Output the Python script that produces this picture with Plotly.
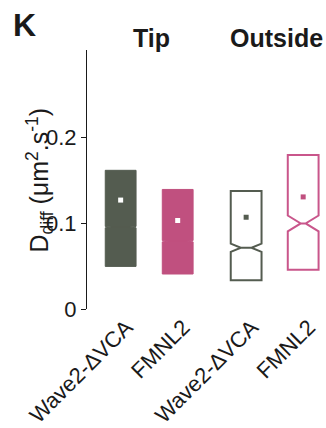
import plotly.graph_objects as go

# ---- data ----
categories = ["Wave2-ΔVCA", "FMNL2", "Wave2-ΔVCA", "FMNL2"]
positions = [1, 2, 3.2, 4.2]
groups = ["Tip", "Outside"]
group_members = [[0, 1], [2, 3]]
q1 = [0.0497, 0.0408, 0.0336, 0.0459]
q3 = [0.1617, 0.1394, 0.1376, 0.1796]
median = [0.0955, 0.0791, 0.0714, 0.0998]
mean = [0.127, 0.1032, 0.107, 0.1307]
notchspan = [0.0008, 0.0008, 0.0048, 0.0092]
y_ticks = [0, 0.1, 0.2]
y_ticklabels = ["0", "0.1", "0.2"]

# ---- styles ----
GREEN = "#545c50"
PINK = "#c0507f"
PINK_LINE = "#c9568b"
TEXT = "#1a1a1a"
filled = [True, True, False, False]
line_colors = [GREEN, PINK, GREEN, PINK_LINE]
fill_colors = [GREEN, PINK, "white", "white"]
notch_widths = [0.2, 0.2, 0.33, 0.42]
mean_colors = ["white", "white", GREEN, PINK]
FONT = "Liberation Sans, Arial, Helvetica, sans-serif"
LABEL_SHIFT = 0.1  # rotated labels sit slightly right of the box centres

fig = go.Figure()
for i in range(len(categories)):
    fig.add_trace(go.Box(
        x=[positions[i]],
        q1=[q1[i]], q3=[q3[i]], median=[median[i]],
        lowerfence=[q1[i]], upperfence=[q3[i]],
        notched=True, notchspan=[notchspan[i]], notchwidth=notch_widths[i],
        width=0.54,
        fillcolor=fill_colors[i],
        line=dict(color=line_colors[i], width=1 if filled[i] else 2),
        whiskerwidth=0,
        boxpoints=False,
        showlegend=False,
        hoverinfo="skip",
    ))

fig.add_trace(go.Scatter(
    x=positions, y=mean, mode="markers",
    marker=dict(symbol="square", size=5, color=mean_colors, line=dict(width=0)),
    showlegend=False, hoverinfo="skip",
))

for g, members in zip(groups, group_members):
    center = sum(positions[m] for m in members) / len(members)
    fig.add_annotation(
        x=center, xref="x", xshift=2, y=1.02, yref="paper", yanchor="bottom",
        yshift=-9,
        text="<b>%s</b>" % g, showarrow=False,
        font=dict(family=FONT, size=25, color=TEXT),
    )

fig.add_annotation(
    x=0, xref="paper", xanchor="left", xshift=-76,
    y=1, yref="paper", yanchor="bottom", yshift=5,
    text="<b>K</b>", showarrow=False,
    font=dict(family=FONT, size=32, color=TEXT),
)

fig.add_annotation(
    x=0, xref="paper", xanchor="center", xshift=-48,
    y=0.5, yref="paper", yanchor="middle", yshift=-1,
    textangle=-90,
    text="D<sub>diff</sub> (μm<sup>2</sup>.s<sup>-1</sup>)", showarrow=False,
    font=dict(family=FONT, size=25, color=TEXT),
)

fig.update_layout(
    width=326, height=428,
    margin=dict(l=87, r=0, t=50, b=115),
    paper_bgcolor="white", plot_bgcolor="white",
    font=dict(family=FONT, size=21, color=TEXT),
    xaxis=dict(
        range=[0.41, 4.6],
        tickmode="array", tickvals=[p + LABEL_SHIFT for p in positions],
        ticktext=categories,
        tickangle=-45, showline=False, showgrid=False, zeroline=False,
        ticks="", tickfont=dict(family=FONT, size=22, color=TEXT),
    ),
    yaxis=dict(
        range=[0, 0.302],
        tickmode="array", tickvals=y_ticks, ticktext=y_ticklabels,
        showline=True, linecolor=TEXT, linewidth=1,
        ticks="outside", ticklen=5, tickwidth=1, tickcolor=TEXT,
        showgrid=False, zeroline=False,
        tickfont=dict(family=FONT, size=22, color=TEXT),
    ),
)

fig.write_html(
    "out.html",
    config={"displayModeBar": False},
    post_script="document.body.style.margin='0';document.body.style.overflow='hidden';",
)
